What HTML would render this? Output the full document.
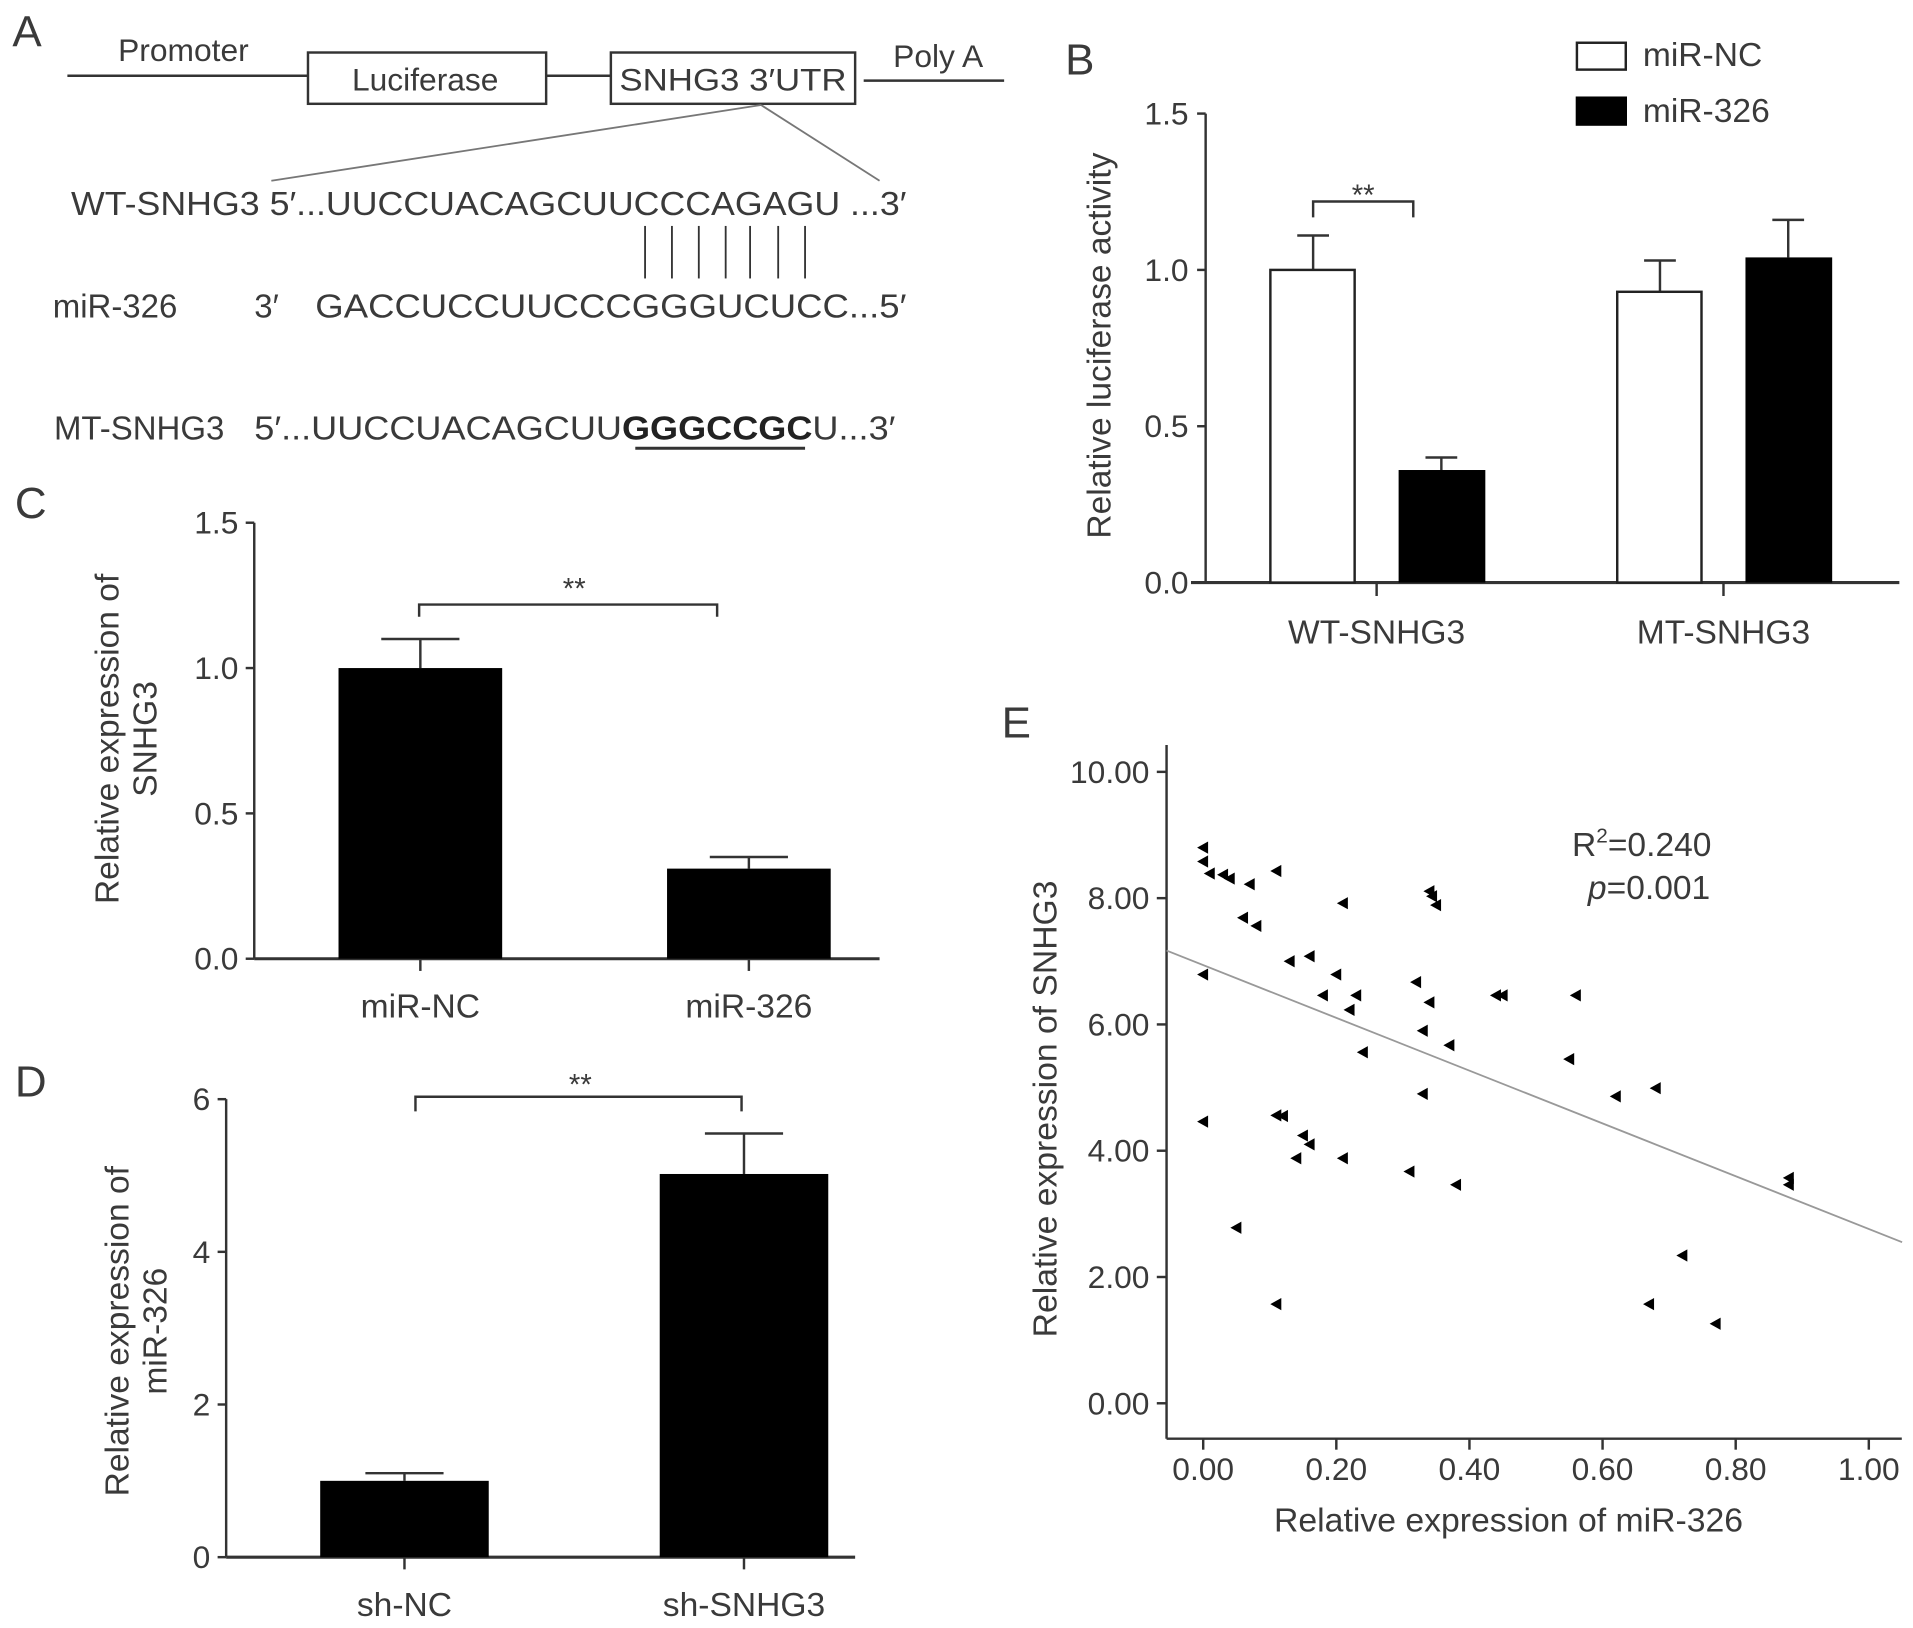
<!DOCTYPE html>
<html><head><meta charset="utf-8"><style>
html,body{margin:0;padding:0;background:#fff}
svg{display:block}
text{font-family:"Liberation Sans",sans-serif;fill:#3a3a3a}
</style></head><body>
<svg id="fig" width="1913" height="1628" viewBox="0 0 1566 1333" xmlns="http://www.w3.org/2000/svg">
<g stroke="#333" stroke-width="2" fill="none">
<line x1="55" y1="62" x2="252" y2="62"/>
<rect x="252" y="43" width="195" height="42" fill="#fff"/>
<line x1="447" y1="62" x2="500" y2="62"/>
<rect x="500" y="43" width="200" height="42" fill="#fff"/>
<line x1="707" y1="66" x2="822" y2="66"/>
<line x1="623" y1="86" x2="222" y2="148" stroke="#777" stroke-width="1.5"/>
<line x1="623" y1="86" x2="720" y2="148" stroke="#777" stroke-width="1.5"/>
<g stroke-width="1.5"><line x1="528" y1="185" x2="528" y2="228"/><line x1="550" y1="185" x2="550" y2="228"/><line x1="572" y1="185" x2="572" y2="228"/><line x1="594" y1="185" x2="594" y2="228"/><line x1="614" y1="185" x2="614" y2="228"/><line x1="637" y1="185" x2="637" y2="228"/><line x1="659" y1="185" x2="659" y2="228"/></g>
<line x1="520" y1="367" x2="659" y2="367" stroke-width="2.5"/>
</g>
<text x="10" y="38" font-size="36">A</text>
<text x="150" y="50" font-size="26" text-anchor="middle">Promoter</text>
<text x="348" y="74" font-size="26" text-anchor="middle">Luciferase</text>
<text x="507" y="74" font-size="26" textLength="186" lengthAdjust="spacingAndGlyphs">SNHG3 3′UTR</text>
<text x="768" y="55" font-size="26" text-anchor="middle">Poly A</text>
<text x="58" y="176" font-size="27" textLength="684" lengthAdjust="spacingAndGlyphs">WT-SNHG3 5′...UUCCUACAGCUUCCCAGAGU ...3′</text>
<text x="43" y="260" font-size="27">miR-326</text>
<text x="208" y="260" font-size="27">3′</text>
<text x="258" y="260" font-size="27" textLength="484" lengthAdjust="spacingAndGlyphs">GACCUCCUUCCCGGGUCUCC...5′</text>
<text x="44" y="360" font-size="27">MT-SNHG3</text>
<text x="208" y="360" font-size="27" textLength="525" lengthAdjust="spacingAndGlyphs">5′...UUCCUACAGCUU<tspan font-weight="bold" fill="#222">GGGCCGC</tspan>U...3′</text>
<g id="charts"></g>
</svg>
<script>
// Panel B data
const bCats = ["WT-SNHG3","MT-SNHG3"];
const bNC = [1.0, 0.93];
const bNCerr = [0.11, 0.10];
const b326 = [0.36, 1.04];
const b326err = [0.04, 0.12];
const bTicks = ["0.0","0.5","1.0","1.5"];
// Panel C data
const cCats = ["miR-NC","miR-326"];
const cVals = [1.0, 0.31];
const cErr = [0.10, 0.04];
const cTicks = ["0.0","0.5","1.0","1.5"];
// Panel D data
const dCats = ["sh-NC","sh-SNHG3"];
const dVals = [1.0, 5.02];
const dErr = [0.10, 0.53];
const dTicks = ["0","2","4","6"];
// Panel E data
const eX = [0,0,0.01,0.03,0.04,0.07,0.11,0.06,0.08,0.21,0.34,0.344,0.35,0.13,0.16,0,0.20,0.18,0.23,0.22,0.32,0.34,0.33,0.24,0.37,0.44,0.45,0.56,0.55,0.62,0.68,0.33,0,0.11,0.12,0.15,0.16,0.14,0.21,0.31,0.38,0.88,0.88,0.05,0.72,0.11,0.67,0.77];
const eY = [8.80,8.58,8.39,8.37,8.31,8.22,8.43,7.69,7.56,7.92,8.11,8.03,7.89,7.00,7.08,6.79,6.79,6.46,6.46,6.23,6.67,6.35,5.90,5.56,5.67,6.46,6.46,6.46,5.45,4.86,4.99,4.90,4.46,4.56,4.55,4.24,4.10,3.88,3.88,3.67,3.46,3.57,3.46,2.78,2.34,1.57,1.57,1.26];
const eXTicks = ["0.00","0.20","0.40","0.60","0.80","1.00"];
const eYTicks = ["0.00","2.00","4.00","6.00","8.00","10.00"];
const eFit = [6.94, -4.18]; // intercept, slope

const NS="http://www.w3.org/2000/svg";
const root=document.getElementById('charts');
function mk(tag,attrs,parent,txt){const e=document.createElementNS(NS,tag);for(const k in attrs)e.setAttribute(k,attrs[k]);if(txt!==undefined)e.textContent=txt;(parent||root).appendChild(e);return e;}
function ln(x1,y1,x2,y2,p,w){return mk('line',{x1,y1,x2,y2,stroke:'#333','stroke-width':w||2},p);}
const TK=26, TT=27.5;

// ---- Panel B ----
(function(){
  const g=mk('g',{});
  
  
  const y=v=>477-v*256; const ax=987;
  const lb=mk('text',{x:872,y:61,'font-size':36},g,'B');
  
  
  ln(ax,93,ax,477,g); ln(975,477,1555,477,g,2.5);
  bTicks.forEach(t=>{const v=parseFloat(t);ln(ax-7,y(v),ax,y(v),g);
    const e=mk('text',{x:ax-14,y:y(v)+9,'font-size':TK,'text-anchor':'end'},g,t);
    
    });
  const centers=[1127,1411];
  bCats.forEach((c,i)=>{
    const cx=centers[i];
    ln(cx,477,cx,488,g);
    const t=mk('text',{x:cx,y:527,'font-size':TT,'text-anchor':'middle'},g,c);
    
    
    ln(cx-52,y(bNC[i]),cx-52,y(bNC[i]+bNCerr[i]),g);
    ln(cx-65,y(bNC[i]+bNCerr[i]),cx-39,y(bNC[i]+bNCerr[i]),g);
    const r1=mk('rect',{x:cx-87,y:y(bNC[i]),width:69,height:477-y(bNC[i]),fill:'#fff',stroke:'#222','stroke-width':2},g);
    
    
    ln(cx+53,y(b326[i]),cx+53,y(b326[i]+b326err[i]),g);
    ln(cx+40,y(b326[i]+b326err[i]),cx+66,y(b326[i]+b326err[i]),g);
    const r2=mk('rect',{x:cx+18,y:y(b326[i]),width:71,height:477-y(b326[i]),fill:'#000'},g);
    
    
  });
  const br=mk('path',{d:'M1075 178 V165 H1157 V178',fill:'none',stroke:'#333','stroke-width':2},g);
  
  
  const st=mk('text',{x:1116,y:168,'font-size':24,'text-anchor':'middle'},g,'**');
  
  
  const yt=mk('text',{x:0,y:0,'font-size':TT,'text-anchor':'middle',textLength:316,lengthAdjust:'spacingAndGlyphs',transform:'translate(909,283) rotate(-90)'},g,'Relative luciferase activity');
  
  
  const l1=mk('rect',{x:1291,y:35,width:40,height:22,fill:'#fff',stroke:'#222','stroke-width':2},g);
  
  
  const l2=mk('rect',{x:1290,y:79,width:42,height:24,fill:'#000'},g);
  
  
  const t1=mk('text',{x:1345,y:54,'font-size':TT},g,'miR-NC');
  
  
  const t2=mk('text',{x:1345,y:100,'font-size':TT},g,'miR-326');
  
  
})();

function simplePanel(opt){
  const g=mk('g',{});
  
  
  const y=v=>opt.y0-v*opt.unit; const ax=opt.ax;
  const lb=mk('text',{x:opt.lx,y:opt.ly,'font-size':36},g,opt.letter);
  
  
  ln(ax,y(opt.max),ax,opt.y0,g); ln(ax,opt.y0,opt.axEnd,opt.y0,g,2.5);
  opt.ticks.forEach(t=>{const v=parseFloat(t);ln(ax-7,y(v),ax,y(v),g);
    const e=mk('text',{x:ax-13,y:y(v)+9,'font-size':TK,'text-anchor':'end'},g,t);
    
    });
  opt.cats.forEach((c,i)=>{
    const cx=opt.centers[i];
    ln(cx,opt.y0,cx,opt.y0+10,g);
    const t=mk('text',{x:cx,y:opt.y0+48,'font-size':TT,'text-anchor':'middle'},g,c);
    
    
    const top=y(opt.vals[i]+opt.err[i]);
    ln(cx,y(opt.vals[i]),cx,top,g); ln(cx-32,top,cx+32,top,g);
    const r=mk('rect',{x:cx-opt.bw/2,y:y(opt.vals[i]),width:opt.bw,height:opt.y0-y(opt.vals[i]),fill:'#000'},g);
    
    
  });
  const br=mk('path',{d:opt.bracket,fill:'none',stroke:'#333','stroke-width':2},g);
  
  
  const st=mk('text',{x:opt.sx,y:opt.sy,'font-size':24,'text-anchor':'middle'},g,'**');
  
  
  const yt=mk('text',{x:0,y:0,'font-size':TT,'text-anchor':'middle',transform:`translate(${opt.tx},${opt.ty}) rotate(-90)`},g);
  
  
  mk('tspan',{x:0,dy:0},yt,'Relative expression of');
  mk('tspan',{x:0,dy:31},yt,opt.title2);
}
simplePanel({name:'panel-c-chart',letter:'C',lx:12,ly:424,ax:208,y0:785,unit:238,max:1.5,axEnd:720,ticks:cTicks,cats:cCats,vals:cVals,err:cErr,centers:[344,613],bw:134,bracket:'M343 505 V495 H587 V505',sx:470,sy:490,tx:97,ty:605,title2:'SNHG3'});
simplePanel({name:'panel-d-chart',letter:'D',lx:12,ly:898,ax:185,y0:1275,unit:62.5,max:6,axEnd:700,ticks:dTicks,cats:dCats,vals:dVals,err:dErr,centers:[331,609],bw:138,bracket:'M340 910 V898 H607 V910',sx:475,sy:896,tx:105,ty:1090,title2:'miR-326'});

(function(){
  const g=mk('g',{});
  
  
  const X=v=>985+v*545, Y=v=>1149-v*51.7;
  const lb=mk('text',{x:820,y:604,'font-size':36},g,'E');
  
  
  ln(955,610,955,1178,g); ln(955,1178,1557,1178,g);
  eYTicks.forEach(t=>{const v=parseFloat(t);ln(947,Y(v),955,Y(v),g);
    const e=mk('text',{x:941,y:Y(v)+9,'font-size':TK,'text-anchor':'end'},g,t);
    
    });
  eXTicks.forEach(t=>{const v=parseFloat(t);ln(X(v),1178,X(v),1187,g);
    const e=mk('text',{x:X(v),y:1212,'font-size':TK,'text-anchor':'middle'},g,t);
    
    });
  const fl=mk('line',{x1:X(-0.055),y1:Y(eFit[0]+eFit[1]*-0.055),x2:X(1.05),y2:Y(eFit[0]+eFit[1]*1.05),stroke:'#999','stroke-width':1.5},g);
  
  
  eX.forEach((xv,i)=>{const px=X(xv),py=Y(eY[i]);
    const p=mk('polygon',{points:`${px-5},${py} ${px+4},${py-5} ${px+4},${py+5}`,fill:'#000'},g);
    
    });
  const r=mk('text',{x:1287,y:701,'font-size':TT},g);
  
  
  mk('tspan',{},r,'R');mk('tspan',{'font-size':17,dy:-11},r,'2');mk('tspan',{dy:11},r,'=0.240');
  const p=mk('text',{x:1300,y:736,'font-size':TT},g);
  
  
  mk('tspan',{'font-style':'italic'},p,'p');mk('tspan',{},p,'=0.001');
  const xt=mk('text',{x:1235,y:1254,'font-size':TT,'text-anchor':'middle',textLength:384,lengthAdjust:'spacingAndGlyphs'},g,'Relative expression of miR-326');
  
  
  const yt=mk('text',{x:0,y:0,'font-size':TT,'text-anchor':'middle',textLength:374,lengthAdjust:'spacingAndGlyphs',transform:'translate(865,908) rotate(-90)'},g,'Relative expression of SNHG3');
  
  
})();
</script>
</body></html>
